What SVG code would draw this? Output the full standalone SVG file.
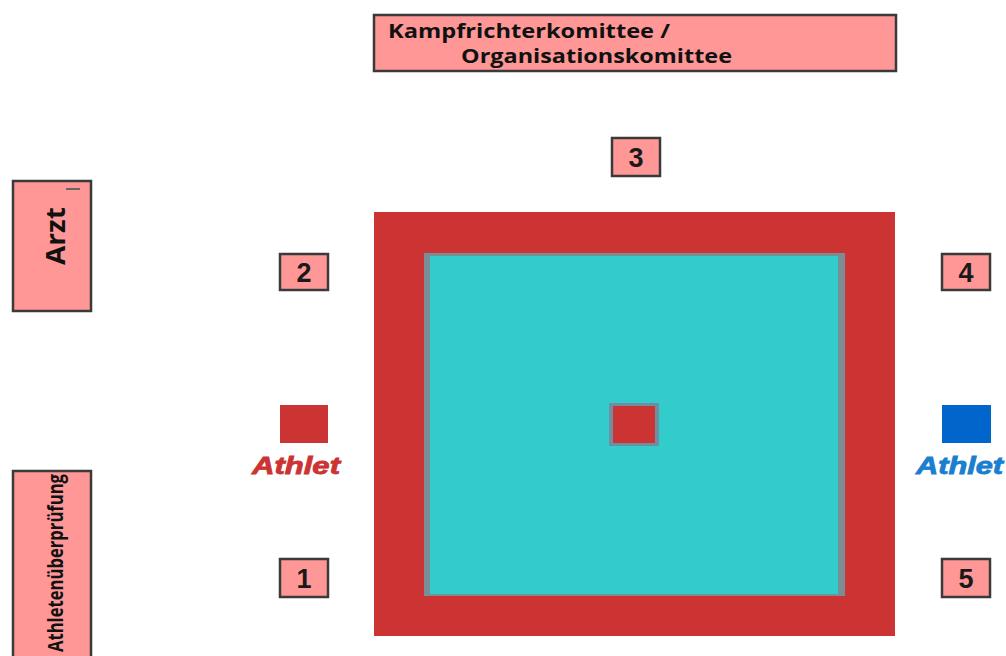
<svg xmlns="http://www.w3.org/2000/svg" width="1006" height="656" viewBox="0 0 1006 656">
<style>
.box{fill:#FF9797;stroke:#3a3a3a;stroke-width:2.5}
.num{font-family:"Liberation Sans",Arial,sans-serif;font-weight:bold;font-size:27px;fill:#1a1a1a;text-anchor:middle}
.lbl{font-family:"Open Sans","Liberation Sans",sans-serif;font-weight:bold;fill:#111}
.ath{font-family:"Liberation Sans",Arial,sans-serif;font-weight:bold;font-style:italic;font-size:23px;stroke-width:0.8}
</style>
<rect width="1006" height="656" fill="#fff"/>
<g id="committee">
<rect class="box" x="374" y="15" width="522" height="56"/>
<text class="lbl" x="388" y="38" font-size="19" textLength="282" lengthAdjust="spacingAndGlyphs">Kampfrichterkomittee /</text>
<text class="lbl" x="461" y="63" font-size="19" textLength="271" lengthAdjust="spacingAndGlyphs">Organisationskomittee</text>
</g>
<g id="arzt">
<rect class="box" x="13" y="181" width="78" height="130"/>
<line x1="66" y1="189" x2="80" y2="189" stroke="#666" stroke-width="2"/>
<text class="lbl" transform="translate(65,236) rotate(-90)" font-size="27" text-anchor="middle" textLength="58" lengthAdjust="spacingAndGlyphs">Arzt</text>
</g>
<g id="athletenueberpruefung">
<rect class="box" x="13" y="471" width="78" height="190"/>
<text class="lbl" transform="translate(63,563) rotate(-90)" font-size="21" text-anchor="middle" textLength="178" lengthAdjust="spacingAndGlyphs" font-weight="normal">Athletenüberprüfung</text>
</g>
<g id="mat">
<rect x="374" y="212" width="521" height="424" fill="#CC3333"/>
<rect x="424" y="253" width="421" height="343" fill="#7a8f95"/>
<rect x="430" y="256" width="408" height="338" fill="#33CCCC"/>
</g>
<g id="center">
<rect x="609" y="403" width="50" height="43" fill="#6f8fa0"/>
<rect x="613" y="406" width="42" height="37" fill="#CC3333"/>
</g>
<g id="judge1"><rect class="box" x="280" y="559" width="48" height="38"/><text class="num" x="304" y="588">1</text></g>
<g id="judge2"><rect class="box" x="280" y="254" width="48" height="36"/><text class="num" x="304" y="282">2</text></g>
<g id="judge3"><rect class="box" x="612" y="138" width="48" height="38"/><text class="num" x="636" y="167">3</text></g>
<g id="judge4"><rect class="box" x="942" y="254" width="48" height="36"/><text class="num" x="966" y="282">4</text></g>
<g id="judge5"><rect class="box" x="942" y="559" width="48" height="38"/><text class="num" x="966" y="588">5</text></g>
<g id="athlete-red">
<rect x="280" y="405" width="48" height="38" fill="#CC3333"/>
<text class="ath" x="252" y="474" fill="#CC3333" stroke="#CC3333" textLength="88" lengthAdjust="spacingAndGlyphs">Athlet</text>
</g>
<g id="athlete-blue">
<rect x="942" y="405" width="49" height="38" fill="#0066CC"/>
<text class="ath" x="916" y="474" fill="#1a7fcf" stroke="#1a7fcf" textLength="87" lengthAdjust="spacingAndGlyphs">Athlet</text>
</g>
<g id="connectors"/>
</svg>
